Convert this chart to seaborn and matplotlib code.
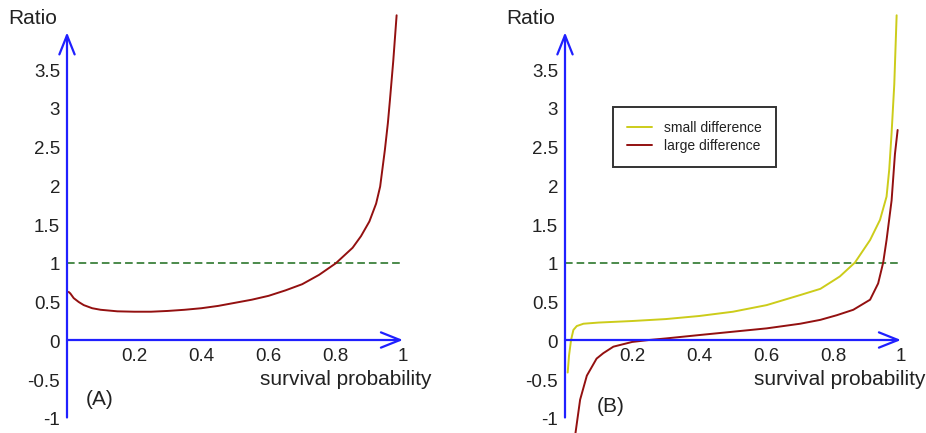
import numpy as np
import pandas as pd
import seaborn as sns
import matplotlib.pyplot as plt

# survival probability vs ratio
a_x = [0.005, 0.01, 0.02, 0.035, 0.05, 0.075, 0.1, 0.15, 0.2, 0.25, 0.3, 0.35, 0.4,
       0.45, 0.5, 0.55, 0.6, 0.65, 0.7, 0.75, 0.8, 0.85, 0.875, 0.9, 0.92, 0.932,
       0.946, 0.955, 0.961, 0.971, 0.981]
a_y = [0.62, 0.60, 0.54, 0.49, 0.45, 0.41, 0.39, 0.37, 0.365, 0.365, 0.375, 0.39, 0.41,
       0.44, 0.48, 0.52, 0.57, 0.64, 0.72, 0.84, 0.99, 1.19, 1.34, 1.53, 1.76, 1.98,
       2.45, 2.8, 3.09, 3.6, 4.19]

small_x = [0.008, 0.012, 0.018, 0.025, 0.035, 0.055, 0.1, 0.2, 0.3, 0.4, 0.5, 0.6,
           0.7, 0.76, 0.8, 0.818, 0.863, 0.908, 0.9375, 0.957, 0.965, 0.972, 0.98, 0.987]
small_y = [-0.42, -0.2, 0.0, 0.13, 0.18, 0.21, 0.225, 0.245, 0.27, 0.31, 0.365, 0.45,
           0.58, 0.66, 0.77, 0.82, 1.0, 1.29, 1.55, 1.85, 2.2, 2.67, 3.3, 4.19]

large_x = [0.028, 0.045, 0.065, 0.094, 0.114, 0.144, 0.2, 0.25, 0.3, 0.4, 0.5, 0.6,
           0.7, 0.76, 0.809, 0.858, 0.908, 0.932, 0.947, 0.957, 0.972, 0.982, 0.99]
large_y = [-1.3, -0.77, -0.46, -0.24, -0.17, -0.086, -0.025, 0.0, 0.02, 0.064, 0.107, 0.15,
           0.21, 0.26, 0.32, 0.39, 0.52, 0.73, 1.0, 1.29, 1.80, 2.40, 2.71]

y_ticks = [-1, -0.5, 0, 0.5, 1, 1.5, 2, 2.5, 3, 3.5]
y_tick_labels = ['-1', '-0.5', '0', '0.5', '1', '1.5', '2', '2.5', '3', '3.5']
x_ticks = [0.2, 0.4, 0.6, 0.8, 1]
x_tick_labels = ['0.2', '0.4', '0.6', '0.8', '1']

blue = '#2020ff'
red = '#931010'
yellow = '#cccc1a'
green = '#1a6b1a'

sns.set_theme(style='white')
plt.rcParams['font.family'] = ['Liberation Sans', 'DejaVu Sans']

fig = plt.figure(figsize=(9.26, 4.33), dpi=100)
ax_a = fig.add_axes([0, 0, 0.5, 1])
ax_b = fig.add_axes([0.5, 0, 0.5, 1])


def draw_frame(ax, x_lo, tag, tag_pos, xlab_right):
    ax.set_xlim(x_lo, x_lo + 463 / 336)
    ax.set_ylim(-93 / 77.5, 340 / 77.5)
    ax.set_axis_off()
    arrow = dict(arrowstyle='->,head_length=0.55,head_width=0.22', color=blue,
                 lw=1.6, shrinkA=0, shrinkB=0, mutation_scale=25)
    ax.annotate('', xy=(0, 3.97), xytext=(0, -1.0), arrowprops=arrow)
    ax.annotate('', xy=(1.0, 0), xytext=(0, 0), arrowprops=arrow)
    ax.plot([0, 1.0], [1, 1], color=green, lw=1.1, dashes=(5, 2.6), zorder=1)
    for v, lab in zip(y_ticks, y_tick_labels):
        ax.annotate(lab, (0, v), xytext=(-5, -2.5), textcoords='offset points',
                    ha='right', va='center', fontsize=13.5, color='#222222')
    for v, lab in zip(x_ticks, x_tick_labels):
        ax.annotate(lab, (v, 0), xytext=(0, -12), textcoords='offset points',
                    ha='center', va='center', fontsize=13.5, color='#222222')
    ax.text(-0.101, 4.145, 'Ratio', ha='center', va='center', fontsize=15, color='#222222')
    ax.text(xlab_right, -0.515, 'survival probability', ha='right', va='center',
            fontsize=15, color='#222222')
    ax.text(tag_pos[0], tag_pos[1], tag, ha='center', va='center', fontsize=15,
            color='#222222')


draw_frame(ax_a, -67 / 336, '(A)', (0.098, -0.77), 1.086)
draw_frame(ax_b, -102 / 336, '(B)', (0.136, -0.86), 1.072)

df_a = pd.DataFrame({'p': a_x, 'ratio': a_y})
sns.lineplot(data=df_a, x='p', y='ratio', ax=ax_a, color=red, lw=1.4, sort=False,
             estimator=None)

df_b = pd.concat([
    pd.DataFrame({'p': small_x, 'ratio': small_y, 'case': 'small difference'}),
    pd.DataFrame({'p': large_x, 'ratio': large_y, 'case': 'large difference'}),
])
sns.lineplot(data=df_b, x='p', y='ratio', hue='case', ax=ax_b, sort=False,
             estimator=None, lw=1.4,
             palette={'small difference': yellow, 'large difference': red})

leg = ax_b.legend(loc='upper left', bbox_to_anchor=((613 - 463) / 463, (433 - 107) / 433),
                  borderaxespad=0, fontsize=10, frameon=True, fancybox=False,
                  handlelength=1.8, handletextpad=0.9, labelspacing=0.3,
                  borderpad=1.0)
leg.get_frame().set_edgecolor('black')
leg.get_frame().set_linewidth(1.4)
for t in leg.get_texts():
    t.set_color('#222222')

ax_a.set_xlabel('')
ax_a.set_ylabel('')
ax_b.set_xlabel('')
ax_b.set_ylabel('')

fig.savefig('out.png', dpi=100)
